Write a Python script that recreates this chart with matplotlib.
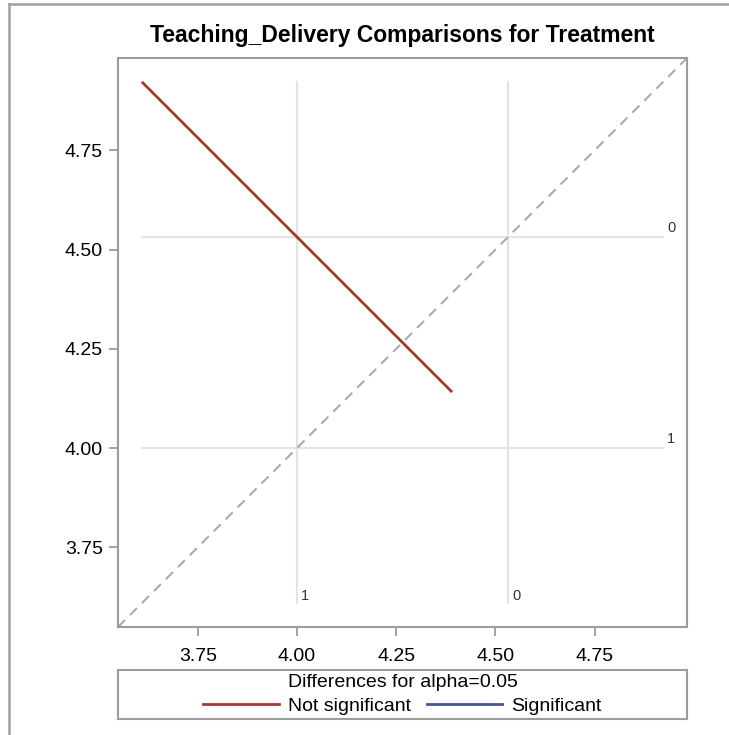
import matplotlib
matplotlib.use('Agg')
import matplotlib.pyplot as plt
from matplotlib.lines import Line2D

plt.rcParams['font.family'] = ['Liberation Sans', 'DejaVu Sans']

# LS-means per treatment level
levels = ['0', '1']
lsmeans = [4.532, 4.000]

# difference (level 0 - level 1) with 95% confidence limits
diff_lower = -0.250
diff_upper = 1.314

ticks = [3.75, 4.00, 4.25, 4.50, 4.75]
lims = (3.549, 4.983)

RED = '#A23A2E'
BLUE = '#445694'
FRAME = '#9c9c9c'
GRID = '#e3e3e3'

W, H = 729, 735
fig = plt.figure(figsize=(W / 100, H / 100), dpi=100)
ax = fig.add_axes([118 / W, 108 / H, 569 / W, 569 / H])

# segment for the pair: x = level 1, y = level 0, slope -1
xc, yc = lsmeans[1], lsmeans[0]
half = (diff_upper - diff_lower) / 4
seg_x = [xc - half, xc + half]
seg_y = [yc + half, yc - half]
lo = min(seg_x + seg_y)
hi = max(seg_x + seg_y)

# reference lines at each mean with level labels
for lev, m in zip(levels, lsmeans):
    ax.plot([m, m], [lo, hi], color=GRID, lw=1.5, zorder=1)
    ax.plot([lo, hi], [m, m], color=GRID, lw=1.5, zorder=1)
    ax.annotate(lev, (m, lo), xytext=(3, 2), textcoords='offset points',
                ha='left', va='baseline', fontsize=10.5, color='#333333')
    ax.annotate(lev, (hi, m), xytext=(3, 3.5), textcoords='offset points',
                ha='left', va='baseline', fontsize=10.5, color='#333333')

# y = x diagonal
diag = ax.axline((lims[0], lims[0]), slope=1, color='#a3a8ad', lw=1.4, zorder=2)
diag.set_dashes((5.1, 3.6))

ax.plot(seg_x, seg_y, color=RED, lw=2.0, zorder=3, solid_capstyle='butt')

ax.set_xlim(lims)
ax.set_ylim(lims)
ax.set_xticks(ticks)
ax.set_yticks(ticks)
ax.set_xticklabels([f'{t:.2f}' for t in ticks])
ax.set_yticklabels([f'{t:.2f}' for t in ticks])
ax.tick_params(axis='both', direction='out', length=6.7, width=1.3,
               color=FRAME, labelsize=14, labelcolor='black')
ax.tick_params(axis='x', pad=8.5)
ax.tick_params(axis='y', pad=4.3)
for sp in ax.spines.values():
    sp.set_color(FRAME)
    sp.set_linewidth(1.5)

fig.text(402.5 / W, 1 - 42 / H, 'Teaching_Delivery Comparisons for Treatment',
         ha='center', va='baseline', fontsize=16.5, fontweight='bold')

# legend box under the plot
lax = fig.add_axes([118 / W, 16 / H, 569 / W, 49 / H])
lax.set_xticks([])
lax.set_yticks([])
for sp in lax.spines.values():
    sp.set_color(FRAME)
    sp.set_linewidth(1.5)
handles = [Line2D([], [], color=RED, lw=2.0), Line2D([], [], color=BLUE, lw=2.0)]
leg = lax.legend(handles, ['Not significant', 'Significant'],
                 title='Differences for alpha=0.05', loc='center', ncol=2,
                 frameon=False, fontsize=14, title_fontsize=14,
                 handlelength=3.9, handletextpad=0.47, columnspacing=0.8,
                 labelspacing=0.3, borderpad=0.0, borderaxespad=0.0)
leg._legend_box.sep = 5

# outer border on top and left edge
fig.add_artist(Line2D([9 / W, 9 / W], [0, 1 - 4 / H], color='#a0a0a0', lw=1.8,
                      transform=fig.transFigure))
fig.add_artist(Line2D([9 / W, 1], [1 - 4 / H, 1 - 4 / H], color='#a0a0a0', lw=1.8,
                      transform=fig.transFigure))

fig.savefig('out.png', dpi=100)
